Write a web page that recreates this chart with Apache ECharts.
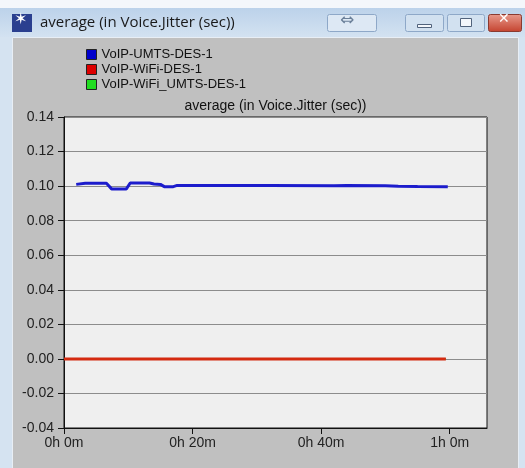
<!DOCTYPE html>
<html>
<head>
<meta charset="utf-8">
<script src="https://cdn.jsdelivr.net/npm/echarts@6/dist/echarts.min.js"></script>
<style>
  html, body { margin: 0; padding: 0; background: #c0c0c0; }
  #chart { width: 525px; height: 468px; }
</style>
</head>
<body>
<div id="chart"></div>
<script>
// time in minutes, value in seconds
const umtsData = [
  [1.9, 0.1010], [3.3, 0.1016], [6.6, 0.1016], [7.4, 0.0984], [9.7, 0.0984],
  [10.3, 0.1018], [13.3, 0.1018], [14.0, 0.1012], [15.0, 0.1010], [15.6, 0.0997],
  [17.0, 0.0997], [17.6, 0.1004], [25, 0.1003], [32, 0.1004], [42, 0.1002],
  [44, 0.1003], [50, 0.1002], [52, 0.0999], [55, 0.0998], [59.7, 0.0997]
];
const wifiData = [[0, 0], [10, 0], [20, 0], [30, 0], [40, 0], [50, 0], [59.4, 0]];
const wifiUmtsData = [[0, 0], [10, 0], [20, 0], [30, 0], [40, 0], [50, 0], [59.4, 0]];
const xTicks = [0, 20, 40, 60];
const seriesNames = ['VoIP-UMTS-DES-1', 'VoIP-WiFi-DES-1', 'VoIP-WiFi_UMTS-DES-1'];
const windowTitle = 'average (in Voice.Jitter (sec))';
const chartTitle = 'average (in Voice.Jitter (sec))';

function fmtTime(v) {
  const h = Math.floor(v / 60);
  const m = Math.round(v - h * 60);
  return h + 'h ' + m + 'm';
}

const chart = echarts.init(document.getElementById('chart'));

const option = {
  backgroundColor: '#c0c0c0',
  animation: false,
  textStyle: { fontFamily: 'Liberation Sans, Arial, sans-serif' },
  graphic: [
    // window frame
    { type: 'rect', left: 0, top: 0, shape: { width: 525, height: 468 }, style: { fill: '#d5e3f1' }, z: -10 },
    { type: 'rect', left: 0, top: 0, shape: { width: 525, height: 8 }, style: { fill: '#f4f7fb' }, z: -9 },
    {
      type: 'rect', left: 0, top: 8, shape: { width: 525, height: 29 }, z: -9,
      style: { fill: new echarts.graphic.LinearGradient(0, 0, 0, 1, [
        { offset: 0, color: '#bcd2ea' }, { offset: 1, color: '#d3e2f1' }
      ]) }
    },
    { type: 'rect', left: 12, top: 37, shape: { width: 506, height: 431 }, style: { fill: '#c0c0c0', stroke: '#e8eef5', lineWidth: 1 }, z: -8 },
    // icon
    { type: 'rect', left: 12, top: 14, shape: { width: 20, height: 18 }, style: { fill: '#2a3f8f' }, z: 5 },
    { type: 'text', left: 14, top: 12, style: { text: '✶', fill: '#ffffff', font: '16px DejaVu Sans' }, z: 6 },
    { type: 'text', left: 40, top: 15, style: { text: windowTitle, fill: '#1a1a1a', font: '15px Open Sans' }, z: 5 },
    // title bar buttons
    { type: 'rect', left: 327, top: 14, shape: { width: 49, height: 17, r: 2 }, style: { fill: '#dde8f4', stroke: '#8ea8c8' }, z: 5 },
    { type: 'text', left: 340, top: 12, style: { text: '⇔', fill: '#6a7f99', font: '17px DejaVu Sans' }, z: 6 },
    { type: 'rect', left: 405, top: 14, shape: { width: 38, height: 17, r: 2 }, style: { fill: '#d2e1f0', stroke: '#8ea8c8' }, z: 5 },
    { type: 'rect', left: 417, top: 24, shape: { width: 14, height: 3 }, style: { fill: '#f4f7fb', stroke: '#51637c' }, z: 6 },
    { type: 'rect', left: 447, top: 14, shape: { width: 37, height: 17, r: 2 }, style: { fill: '#d2e1f0', stroke: '#8ea8c8' }, z: 5 },
    { type: 'rect', left: 460, top: 18, shape: { width: 11, height: 8 }, style: { fill: '#f4f7fb', stroke: '#51637c' }, z: 6 },
    {
      type: 'rect', left: 488, top: 14, shape: { width: 33, height: 17, r: 2 }, z: 5,
      style: { stroke: '#8a3a30', fill: new echarts.graphic.LinearGradient(0, 0, 0, 1, [
        { offset: 0, color: '#e89a8c' }, { offset: 1, color: '#c4422e' }
      ]) }
    },
    { type: 'text', left: 498, top: 12, style: { text: '✕', fill: '#ffffff', font: 'bold 14px DejaVu Sans' }, z: 6 },
    // chart title above plot
    { type: 'text', x: 275.5, y: 106, style: { text: chartTitle, fill: '#111', font: '14px Liberation Sans', align: 'center', verticalAlign: 'middle' }, z: 5 }
  ],
  legend: {
    orient: 'vertical',
    left: 81,
    top: 43,
    itemWidth: 10,
    itemHeight: 10,
    itemGap: 2,
    icon: 'rect',
    textStyle: { color: '#111', fontSize: 13, fontFamily: 'Liberation Sans' },
    data: seriesNames.map((n) => ({ name: n, itemStyle: { borderColor: '#222', borderWidth: 1 } }))
  },
  grid: {
    left: 64,
    right: 38,
    top: 117,
    bottom: 40,
    show: true,
    backgroundColor: '#efefef',
    borderColor: '#111',
    borderWidth: 1
  },
  xAxis: {
    type: 'value',
    min: 0,
    max: 65.8,
    interval: 20,
    axisLine: { show: true, onZero: false, lineStyle: { color: '#111' } },
    axisTick: { show: true, length: 6, customValues: xTicks, lineStyle: { color: '#111' } },
    axisLabel: {
      customValues: xTicks,
      color: '#222', fontSize: 14, fontFamily: 'Liberation Sans', margin: 8,
      formatter: (v) => fmtTime(v)
    },
    splitLine: { show: false }
  },
  yAxis: {
    type: 'value',
    min: -0.04,
    max: 0.14,
    interval: 0.02,
    axisLine: { show: true, lineStyle: { color: '#111' } },
    axisTick: { show: true, length: 6, lineStyle: { color: '#111' } },
    axisLabel: {
      color: '#222', fontSize: 14, fontFamily: 'Liberation Sans', margin: 10,
      formatter: (v) => v.toFixed(2)
    },
    splitLine: { show: true, lineStyle: { color: '#8c8c8c', width: 1 } }
  },
  series: [
    {
      name: seriesNames[0], type: 'line', data: umtsData, showSymbol: false,
      lineStyle: { color: '#1c1ccc', width: 3 }, itemStyle: { color: '#0000cc' }, z: 4
    },
    {
      name: seriesNames[1], type: 'line', data: wifiData, showSymbol: false,
      lineStyle: { color: '#d42a10', width: 3 }, itemStyle: { color: '#dd0000' }, z: 3
    },
    {
      name: seriesNames[2], type: 'line', data: wifiUmtsData, showSymbol: false,
      lineStyle: { color: '#33cc33', width: 2 }, itemStyle: { color: '#22dd22' }, z: 2
    }
  ]
};

chart.setOption(option);
</script>
</body>
</html>
